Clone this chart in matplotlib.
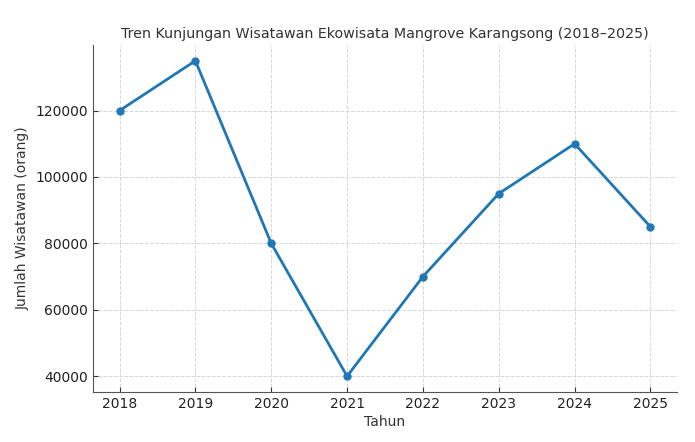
import matplotlib
matplotlib.use("Agg")
import matplotlib.pyplot as plt

years = [2018, 2019, 2020, 2021, 2022, 2023, 2024, 2025]
visitors = [120000, 135000, 80000, 40000, 70000, 95000, 110000, 85000]

plt.rcParams['font.family'] = ['DejaVu Sans']
fig = plt.figure(figsize=(6.95, 4.42), dpi=100)
ax = fig.add_axes([93/695, 1-392/442, (677-93)/695, (392-45)/442])
ax.plot(years, visitors, marker='o', color='#1f77b4', linewidth=2, markersize=5)
ax.set_title('Tren Kunjungan Wisatawan Ekowisata Mangrove Karangsong (2018–2025)',
             fontsize=10.3, color='#333333', pad=5)
ax.set_xlabel('Tahun', fontsize=10, color='#333333', labelpad=3)
ax.set_ylabel('Jumlah Wisatawan (orang)', fontsize=10, color='#333333')
ax.set_xticks(years)
ax.set_yticks([40000, 60000, 80000, 100000, 120000])
ax.tick_params(direction='in', labelsize=10, colors='#333333', labelcolor='#222222')
ax.grid(True, linestyle='--', color='#cccccc', linewidth=0.7, alpha=0.8)
for s in ['top', 'right']:
    ax.spines[s].set_visible(False)
for s in ['left', 'bottom']:
    ax.spines[s].set_color('#555555')
fig.savefig('out.png', dpi=100)
